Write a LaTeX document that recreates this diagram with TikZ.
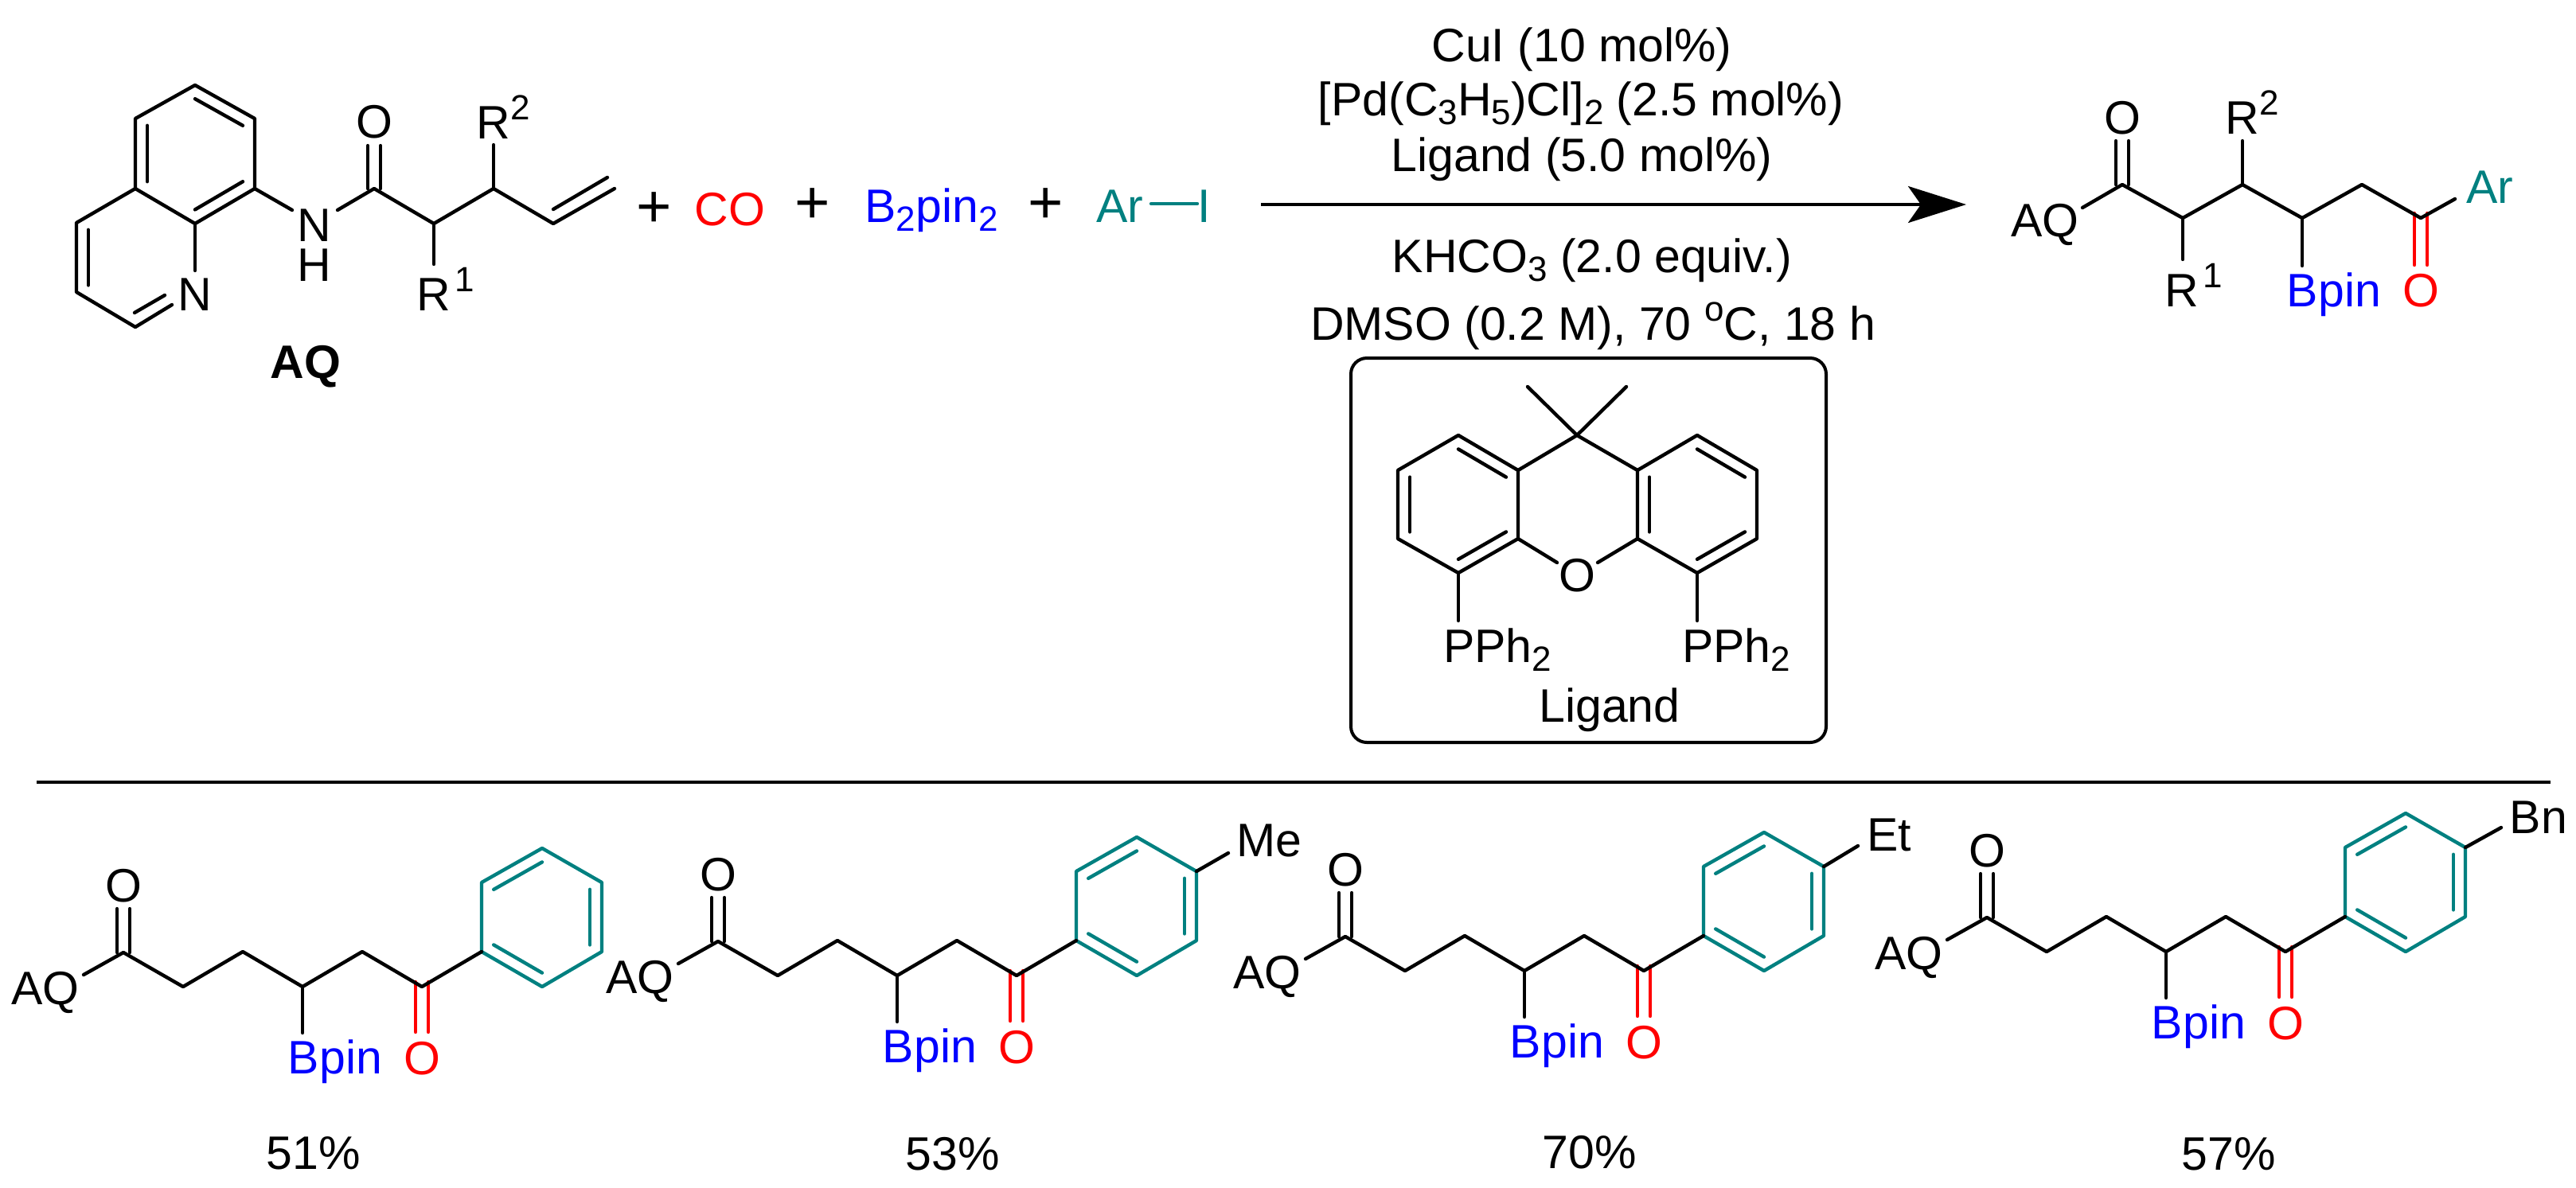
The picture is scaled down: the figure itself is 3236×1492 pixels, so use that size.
\documentclass[tikz,border=0pt]{standalone}
\usepackage{fontspec}
\setmainfont{Liberation Sans}
\usetikzlibrary{calc,arrows.meta}

\definecolor{arteal}{RGB}{0,128,128}
\newcommand{\dn}[1]{\raisebox{-.2em}{\fontsize{11}{11}\selectfont #1}}
\newcommand{\upp}[1]{\raisebox{.4em}{\fontsize{11}{11}\selectfont #1}}
\newcommand{\inbond}[3]{\draw[bond] ($(#1)!.8!(#2)$) -- ($(#1)!.8!(#3)$);}

\tikzset{
	bond/.style={line width=1.1pt,line cap=round,line join=round},
	txt/.style={inner sep=0pt,anchor=base,font=\fontsize{14.75}{17}\selectfont},
	txtl/.style={txt,anchor=base west},
	plus/.style={inner sep=0pt,anchor=base,font=\fontsize{19}{19}\selectfont},
}

\begin{document}
\begin{tikzpicture}[x=.25pt,y=-.25pt]
	\useasboundingbox (0,0) rectangle (3236,1492);

	% substrate
	\path (245,107) coordinate (qa) (320,149) coordinate (qb) (320,237) coordinate (qc)
		(245,281) coordinate (qd) (170,237) coordinate (qe) (170,149) coordinate (qf)
		(96,280) coordinate (qg) (96,367) coordinate (qh) (170,411) coordinate (qi)
		(245,193) coordinate (qcA) (170,324) coordinate (qcB);
	\path (245,340) coordinate (qn1) (216,383) coordinate (qn2) (207,371) coordinate (qn3)
		(169,393) coordinate (qn4) (367,264) coordinate (nh1) (424,264) coordinate (nh2);
	\path (470,237) coordinate (sco) (545,281) coordinate (sr1) (620,237) coordinate (sr2)
		(695,281) coordinate (sv) (772,237) coordinate (sve) (695,263) coordinate (svi)
		(763,223) coordinate (svj) (545,332) coordinate (sr1e) (620,182) coordinate (sr2e)
		(462,183) coordinate (so1) (478,183) coordinate (so2) (462,237) coordinate (so3) (478,237) coordinate (so4);
	\draw[bond] (qa) -- (qb) -- (qc) -- (qd) -- (qe) -- (qf) -- cycle;
	\draw[bond] (qe) -- (qg) -- (qh) -- (qi) -- (qn2);
	\draw[bond] (qd) -- (qn1);
	\inbond{qcA}{qa}{qb}
	\inbond{qcA}{qc}{qd}
	\inbond{qcA}{qe}{qf}
	\inbond{qcB}{qg}{qh}
	\draw[bond] (qn3) -- (qn4);
	\draw[bond] (qc) -- (nh1);
	\draw[bond] (nh2) -- (sco) -- (sr1) -- (sr2) -- (sv) -- (sve);
	\draw[bond] (svi) -- (svj);
	\draw[bond] (sr1) -- (sr1e);
	\draw[bond] (sr2) -- (sr2e);
	\draw[bond] (so1) -- (so3);
	\draw[bond] (so2) -- (so4);
	\node[txt] (qN) at (245,390) {N};
	\node[inner sep=0pt,align=center,font=\fontsize{14.75}{12.5}\selectfont] (sNH) at (395,308) {N\\H};
	\node[txt] (sO) at (470,173) {O};
	\node[txtl] (sR1) at (523,390) {R\kern.08em\upp{1}};
	\node[txtl] (sR2) at (598,174) {R\upp{2}};
	\node[txt,font=\fontsize{14.75}{17}\selectfont\bfseries] (sAQ) at (384,475) {AQ};

	% reagents
	\node[plus] (plusa) at (822,285) {+};
	\node[txt,red] (co) at (917,283) {CO};
	\node[plus] (plusb) at (1021,280) {+};
	\node[txt,blue] (bpin) at (1170,279) {B\dn{2}pin\dn{2}};
	\node[plus] (plusc) at (1314,280) {+};
	\node[txt,arteal] (ar) at (1407,279) {Ar};
	\node[txt,arteal] (ari) at (1513,279) {I};
	\coordinate (ara) at (1446,256);
	\coordinate (arb) at (1504,256);
	\draw[bond,arteal] (ara) -- (arb);

	% arrow and conditions
	\coordinate (arra) at (1584,257);
	\coordinate (arrb) at (2470,257);
	\draw[line width=1pt,-{Stealth[length=18.25pt,width=11.5pt,inset=4pt]}] (arra) -- (arrb);
	\node[txt] (cond1) at (1987,77) {CuI (10 mol\%)};
	\node[txt] (cond2) at (1986,145) {[Pd(C\dn{3}H\dn{5})Cl]\dn{2} (2.5 mol\%)};
	\node[txt] (cond3) at (1987,215) {Ligand (5.0 mol\%)};
	\node[txt] (cond4) at (2000,342) {KHCO\dn{3} (2.0 equiv.)};
	\node[txt] (cond5) at (2001,427) {DMSO (0.2 M), 70 \upp{o}C, 18 h};

	% ligand
	\draw[line width=1pt,rounded corners=5pt] (1697,450) rectangle (2294,933);
	\path (1981,547) coordinate (lq) (1919,486) coordinate (lm1) (2043,486) coordinate (lm2)
		(1832,547) coordinate (la) (1907,591) coordinate (lb) (1907,677) coordinate (lc)
		(1832,720) coordinate (ld) (1756,677) coordinate (le) (1756,591) coordinate (lf)
		(2132,547) coordinate (ra) (2057,591) coordinate (rb) (2057,677) coordinate (rc)
		(2132,720) coordinate (rd) (2207,677) coordinate (re) (2207,591) coordinate (rf)
		(1832,634) coordinate (lcc) (2132,634) coordinate (rcc)
		(1956,707) coordinate (lo1) (2007,707) coordinate (lo2)
		(1832,780) coordinate (lp1) (2132,780) coordinate (lp2);
	\draw[bond] (la) -- (lb) -- (lc) -- (ld) -- (le) -- (lf) -- cycle;
	\draw[bond] (ra) -- (rb) -- (rc) -- (rd) -- (re) -- (rf) -- cycle;
	\draw[bond] (lb) -- (lq) -- (rb);
	\draw[bond] (lm1) -- (lq) -- (lm2);
	\draw[bond] (lc) -- (lo1);
	\draw[bond] (rc) -- (lo2);
	\draw[bond] (ld) -- (lp1);
	\draw[bond] (rd) -- (lp2);
	\inbond{lcc}{la}{lb}
	\inbond{lcc}{lc}{ld}
	\inbond{lcc}{le}{lf}
	\inbond{rcc}{ra}{rf}
	\inbond{rcc}{rd}{re}
	\inbond{rcc}{rb}{rc}
	\node[txt] (lO) at (1981,743) {O};
	\node[txt] (lP1) at (1881,832) {PPh\dn{2}};
	\node[txt] (lP2) at (2181,832) {PPh\dn{2}};
	\node[txt] (lname) at (2022,907) {Ligand};

	% product of the reaction
	\path (2616,261) coordinate (ta) (2666,232) coordinate (tb) (2742,274) coordinate (tc)
		(2817,232) coordinate (td) (2892,274) coordinate (te) (2967,232) coordinate (tf)
		(3041,274) coordinate (tg) (3084,250) coordinate (th)
		(2742,326) coordinate (tr1) (2817,177) coordinate (tr2) (2892,334) coordinate (tbp)
		(2658,177) coordinate (to1) (2674,177) coordinate (to2) (2658,232) coordinate (to3) (2674,232) coordinate (to4)
		(3033,268) coordinate (tx1) (3049,268) coordinate (tx2) (3033,333) coordinate (tx3) (3049,333) coordinate (tx4);
	\draw[bond,red] (tx1) -- (tx3);
	\draw[bond,red] (tx2) -- (tx4);
	\draw[bond] (ta) -- (tb) -- (tc) -- (td) -- (te) -- (tf) -- (tg) -- (th);
	\draw[bond] (tc) -- (tr1);
	\draw[bond] (td) -- (tr2);
	\draw[bond] (te) -- (tbp);
	\draw[bond] (to1) -- (to3);
	\draw[bond] (to2) -- (to4);
	\node[txt] (tAQ) at (2569,297) {AQ};
	\node[txt] (tO) at (2666,168) {O};
	\node[txtl] (tR1) at (2719,385) {R\kern.08em\upp{1}};
	\node[txtl] (tR2) at (2795,168) {R\upp{2}};
	\node[txt,blue] (tBp) at (2932,385) {Bpin};
	\node[txt,red] (tOr) at (3041,385) {O};
	\node[txt,arteal] (tAr) at (3128,255) {Ar};

	% rule
	\coordinate (rulea) at (46,983);
	\coordinate (ruleb) at (3204,983);
	\draw[line width=1pt] (rulea) -- (ruleb);

	% scope of products
	\foreach \i/\dx/\dy/\yx/\yy/\yld in {1/0/0/394/1469/51,2/747/-14/1197/1470/53,3/1535/-20/1997/1468/70,4/2341/-44/2800/1470/57}{
		\begin{scope}[shift={(\dx,\dy)}]
			\path (105,1225) coordinate (p\i a) (155,1197) coordinate (p\i b) (230,1240) coordinate (p\i c)
				(305,1196) coordinate (p\i d) (380,1240) coordinate (p\i e) (455,1196) coordinate (p\i f)
				(530,1240) coordinate (p\i g) (605,1196) coordinate (p\i r)
				(605,1109) coordinate (p\i s) (681,1066) coordinate (p\i t) (756,1109) coordinate (p\i u)
				(756,1196) coordinate (p\i v) (681,1240) coordinate (p\i w) (681,1153) coordinate (p\i z)
				(380,1298) coordinate (p\i bp)
				(147,1142) coordinate (p\i o1) (163,1142) coordinate (p\i o2) (147,1197) coordinate (p\i o3) (163,1197) coordinate (p\i o4)
				(522,1234) coordinate (p\i x1) (538,1234) coordinate (p\i x2) (522,1297) coordinate (p\i x3) (538,1297) coordinate (p\i x4);
			\draw[bond,red] (p\i x1) -- (p\i x3);
			\draw[bond,red] (p\i x2) -- (p\i x4);
			\begin{scope}[arteal]
				\draw[bond] (p\i r) -- (p\i s) -- (p\i t) -- (p\i u) -- (p\i v) -- (p\i w) -- cycle;
				\inbond{p\i z}{p\i s}{p\i t}
				\inbond{p\i z}{p\i u}{p\i v}
				\inbond{p\i z}{p\i r}{p\i w}
			\end{scope}
			\draw[bond] (p\i a) -- (p\i b) -- (p\i c) -- (p\i d) -- (p\i e) -- (p\i f) -- (p\i g) -- (p\i r);
			\draw[bond] (p\i e) -- (p\i bp);
			\draw[bond] (p\i o1) -- (p\i o3);
			\draw[bond] (p\i o2) -- (p\i o4);
			\node[txt] (p\i AQ) at (57,1262) {AQ};
			\node[txt] (p\i O) at (155,1133) {O};
			\node[txt,blue] (p\i Bp) at (421,1349) {Bpin};
			\node[txt,red] (p\i Or) at (530,1350) {O};
		\end{scope}
		\node[txt] (p\i yld) at (\yx,\yy) {\yld\%};
	}

	% substituents on the rings
	\coordinate (me) at (1543,1072);
	\coordinate (et) at (2334,1063);
	\coordinate (bn) at (3142,1040);
	\draw[bond] (p2u) -- (me);
	\draw[bond] (p3u) -- (et);
	\draw[bond] (p4u) -- (bn);
	\node[txt] (lMe) at (1594,1076) {Me};
	\node[txt] (lEt) at (2373,1069) {Et};
	\node[txt] (lBn) at (3189,1047) {Bn};
\end{tikzpicture}
\end{document}
